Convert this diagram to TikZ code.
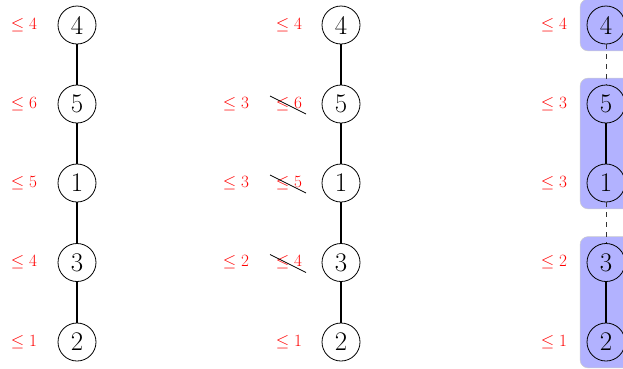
\documentclass[tikz,border=0pt]{standalone}
\usetikzlibrary{fit,backgrounds,calc}
\begin{document}
\begin{tikzpicture}[x=1bp,y=-1bp,
 vtx/.style={circle,draw,line width=0.8bp,minimum size=38bp,inner sep=0pt,font=\fontsize{27}{30}\selectfont},
 bnd/.style={text=red,font=\fontsize{17}{20}\selectfont},
 edge/.style={line width=1.2bp},
 dedge/.style={line width=0.6bp,dash pattern=on 5bp off 5bp,black!80},
 grp/.style={rounded corners=8bp,fill=blue!30,draw=black!20,line width=0.5bp,inner sep=6.5bp},
 strike/.style={line width=0.7bp}]
\useasboundingbox (0,0) rectangle (623,368);
% column 1
\node[vtx] (a4) at (77,25) {4};
\node[vtx] (a5) at (77,104) {5};
\node[vtx] (a1) at (77,183) {1};
\node[vtx] (a3) at (77,262.5) {3};
\node[vtx] (a2) at (77,342) {2};
\node[bnd] (la4) at (24,25) {$\leq 4$};
\node[bnd] (la5) at (24,104) {$\leq 6$};
\node[bnd] (la1) at (24,183) {$\leq 5$};
\node[bnd] (la3) at (24,262.5) {$\leq 4$};
\node[bnd] (la2) at (24,342) {$\leq 1$};
\draw[edge] (a4) -- (a5) (a5) -- (a1) (a1) -- (a3) (a3) -- (a2);
% column 2
\node[vtx] (b4) at (341,25) {4};
\node[vtx] (b5) at (341,104) {5};
\node[vtx] (b1) at (341,183) {1};
\node[vtx] (b3) at (341,262.5) {3};
\node[vtx] (b2) at (341,342) {2};
\node[bnd] (lb4) at (289,25) {$\leq 4$};
\node[bnd] (lb5) at (289,104) {$\leq 6$};
\node[bnd] (lb1) at (289,183) {$\leq 5$};
\node[bnd] (lb3) at (289,262.5) {$\leq 4$};
\node[bnd] (lb2) at (289,342) {$\leq 1$};
\node[bnd] (mb5) at (236,104) {$\leq 3$};
\node[bnd] (mb1) at (236,183) {$\leq 3$};
\node[bnd] (mb3) at (236,262.5) {$\leq 2$};
\foreach \n in {lb5,lb1,lb3}
  \draw[strike] ($(\n.center)+(-19,-8)$) -- ($(\n.center)+(17,10)$);
\draw[edge] (b4) -- (b5) (b5) -- (b1) (b1) -- (b3) (b3) -- (b2);
% column 3
\node[vtx] (c4) at (606,25) {4};
\node[vtx] (c5) at (606,104) {5};
\node[vtx] (c1) at (606,183) {1};
\node[vtx] (c3) at (606,262.5) {3};
\node[vtx] (c2) at (606,342) {2};
\node[bnd] (lc4) at (554,25) {$\leq 4$};
\node[bnd] (lc5) at (554,104) {$\leq 3$};
\node[bnd] (lc1) at (554,183) {$\leq 3$};
\node[bnd] (lc3) at (554,262.5) {$\leq 2$};
\node[bnd] (lc2) at (554,342) {$\leq 1$};
\begin{scope}[on background layer]
\node[grp,fit=(c4)] (g1) {};
\node[grp,fit=(c5)(c1)] (g2) {};
\node[grp,fit=(c3)(c2)] (g3) {};
\end{scope}
\draw[dedge] (c4) -- (c5);
\draw[edge] (c5) -- (c1);
\draw[dedge] (c1) -- (c3);
\draw[edge] (c3) -- (c2);
\end{tikzpicture}
\end{document}
